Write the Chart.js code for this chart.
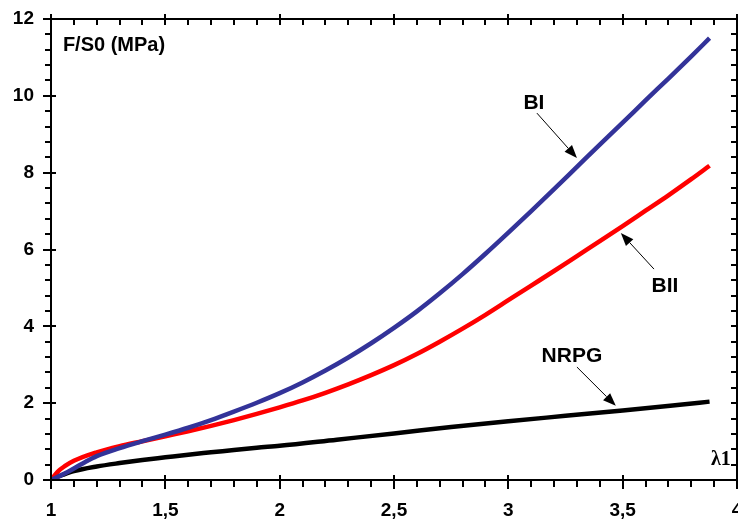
<!DOCTYPE html>
<html>
<head>
<meta charset="utf-8">
<script src="https://cdn.jsdelivr.net/npm/chart.js@4"></script>
<style>
  html, body { margin: 0; padding: 0; background: #fff; }
  canvas { display: block; }
</style>
</head>
<body>
<canvas id="chart" width="738" height="520"></canvas>
<script>
// stretch ratio lambda1 vs nominal stress F/S0 (MPa)
const lambdaBI = [1.00, 1.05, 1.10, 1.15, 1.20, 1.30, 1.40, 1.50, 1.60, 1.70, 1.80, 1.90, 2.00, 2.10, 2.20, 2.30, 2.40, 2.50, 2.60, 2.70, 2.80, 2.90, 3.00, 3.10, 3.20, 3.30, 3.40, 3.50, 3.60, 3.70, 3.80, 3.88];
const stressBI = [0, 0.14, 0.30, 0.47, 0.62, 0.83, 1.01, 1.18, 1.36, 1.56, 1.78, 2.01, 2.26, 2.54, 2.85, 3.19, 3.56, 3.96, 4.39, 4.86, 5.36, 5.89, 6.44, 7.00, 7.57, 8.15, 8.73, 9.30, 9.88, 10.45, 11.03, 11.50];

const lambdaBII = [1.00, 1.03, 1.06, 1.10, 1.20, 1.30, 1.40, 1.50, 1.60, 1.70, 1.80, 1.90, 2.00, 2.10, 2.20, 2.30, 2.40, 2.50, 2.60, 2.70, 2.80, 2.90, 3.00, 3.10, 3.20, 3.30, 3.40, 3.50, 3.60, 3.70, 3.80, 3.88];
const stressBII = [0, 0.22, 0.36, 0.50, 0.72, 0.88, 1.01, 1.14, 1.27, 1.41, 1.56, 1.72, 1.89, 2.07, 2.27, 2.49, 2.73, 2.99, 3.28, 3.60, 3.94, 4.30, 4.68, 5.06, 5.44, 5.83, 6.22, 6.61, 7.01, 7.41, 7.83, 8.18];

const lambdaNRPG = [1.00, 1.02, 1.05, 1.10, 1.20, 1.30, 1.40, 1.50, 1.60, 1.70, 1.80, 1.90, 2.00, 2.25, 2.50, 2.75, 3.00, 3.25, 3.50, 3.75, 3.88];
const stressNRPG = [0, 0.06, 0.13, 0.23, 0.35, 0.44, 0.52, 0.59, 0.66, 0.72, 0.78, 0.84, 0.89, 1.05, 1.21, 1.38, 1.53, 1.67, 1.81, 1.96, 2.04];

const xTicks = [1, 1.5, 2, 2.5, 3, 3.5, 4];
const yTicks = [0, 2, 4, 6, 8, 10, 12];

const FONT = '"Liberation Sans", Arial, sans-serif';

function points(xs, ys) {
  return xs.map((x, i) => ({ x, y: ys[i] }));
}

function series(label, xs, ys, color) {
  return {
    label,
    data: points(xs, ys),
    borderColor: color,
    backgroundColor: color,
    borderWidth: 4.5,
    pointRadius: 0,
    cubicInterpolationMode: 'monotone',
    fill: false
  };
}

function arrow(ctx, x1, y1, x2, y2) {
  const a = Math.atan2(y2 - y1, x2 - x1);
  const len = 13, half = 5;
  const bx = x2 - len * Math.cos(a), by = y2 - len * Math.sin(a);
  ctx.beginPath();
  ctx.moveTo(x1, y1);
  ctx.lineTo(bx, by);
  ctx.lineWidth = 1;
  ctx.stroke();
  ctx.beginPath();
  ctx.moveTo(x2, y2);
  ctx.lineTo(bx + half * Math.sin(a), by - half * Math.cos(a));
  ctx.lineTo(bx - half * Math.sin(a), by + half * Math.cos(a));
  ctx.closePath();
  ctx.fill();
}

// frame, minor ticks and the curve labels
const framePlugin = {
  id: 'frame',
  afterDraw(chart) {
    const { ctx, chartArea: a, scales: { x, y } } = chart;
    ctx.save();
    ctx.strokeStyle = '#000';
    ctx.fillStyle = '#000';
    ctx.lineWidth = 2;
    ctx.strokeRect(a.left, a.top, a.right - a.left, a.bottom - a.top);

    // tick marks as small filled bars
    for (let i = 0; i <= 30; i++) {
      const px = Math.round(x.getPixelForValue(1 + i * 0.1)) - 1;
      const major = i % 5 === 0;
      if (major) {
        ctx.fillRect(px, a.bottom - 5, 2, 14);
        ctx.fillRect(px, a.top - 5, 2, 11);
      } else {
        ctx.fillRect(px, a.bottom, 2, 7);
        ctx.fillRect(px, a.top, 2, 6);
      }
    }
    for (let i = 0; i <= 30; i++) {
      const py = Math.round(y.getPixelForValue(i * 0.4)) - 1;
      const major = i % 5 === 0;
      if (major) {
        ctx.fillRect(a.left - 8, py, 13, 2);
        ctx.fillRect(a.right - 6, py, 11, 2);
      } else {
        ctx.fillRect(a.left - 6, py, 6, 2);
        ctx.fillRect(a.right - 6, py, 6, 2);
      }
    }

    const P = (vx, vy) => [x.getPixelForValue(vx), y.getPixelForValue(vy)];

    ctx.font = 'bold 20px ' + FONT;
    ctx.textAlign = 'left';
    ctx.textBaseline = 'middle';
    let p = P(1.052, 11.32);
    ctx.fillText('F/S0 (MPa)', p[0], p[1]);

    ctx.font = 'bold 21px ' + FONT;
    ctx.textAlign = 'center';
    p = P(3.112, 9.84);
    ctx.fillText('BI', p[0], p[1] + 1);
    p = P(3.685, 5.08);
    ctx.fillText('BII', p[0], p[1] + 1);
    p = P(3.278, 3.25);
    ctx.fillText('NRPG', p[0], p[1] + 1);

    arrow(ctx, ...P(3.125, 9.55), ...P(3.30, 8.38));
    arrow(ctx, ...P(3.637, 5.49), ...P(3.492, 6.43));
    arrow(ctx, ...P(3.30, 2.94), ...P(3.47, 1.93));

    ctx.font = 'bold 20px "Liberation Serif", "Times New Roman", serif';
    ctx.textAlign = 'right';
    p = P(3.973, 0.52);
    ctx.fillText('\u03bb1', p[0], p[1]);
    ctx.restore();
  }
};

new Chart(document.getElementById('chart'), {
  type: 'line',
  data: {
    datasets: [
      series('BI', lambdaBI, stressBI, '#333399'),
      series('BII', lambdaBII, stressBII, '#ff0000'),
      series('NRPG', lambdaNRPG, stressNRPG, '#000000')
    ]
  },
  options: {
    responsive: false,
    animation: false,
    devicePixelRatio: 1,
    layout: { padding: { top: 19, right: 1, bottom: 0, left: 0 } },
    plugins: {
      legend: { display: false },
      tooltip: { enabled: false }
    },
    scales: {
      x: {
        type: 'linear',
        min: 1,
        max: 4,
        afterBuildTicks: (s) => { s.ticks = xTicks.map(v => ({ value: v })); },
        afterFit: (s) => { s.height = 40; s.paddingLeft = 0; s.paddingRight = 0; },
        grid: { display: false, drawTicks: false },
        border: { display: false },
        ticks: {
          padding: 19,
          color: '#000',
          maxRotation: 0,
          autoSkip: false,
          font: { family: FONT, size: 19, weight: 'bold' },
          callback: (v) => String(v).replace('.', ',')
        }
      },
      y: {
        type: 'linear',
        min: 0,
        max: 12,
        afterBuildTicks: (s) => { s.ticks = yTicks.map(v => ({ value: v })); },
        afterFit: (s) => { s.width = 51; s.paddingTop = 0; s.paddingBottom = 0; },
        grid: { display: false, drawTicks: false },
        border: { display: false },
        ticks: {
          padding: 17,
          color: '#000',
          autoSkip: false,
          font: { family: FONT, size: 19, weight: 'bold' }
        }
      }
    }
  },
  plugins: [framePlugin]
});
</script>
</body>
</html>
